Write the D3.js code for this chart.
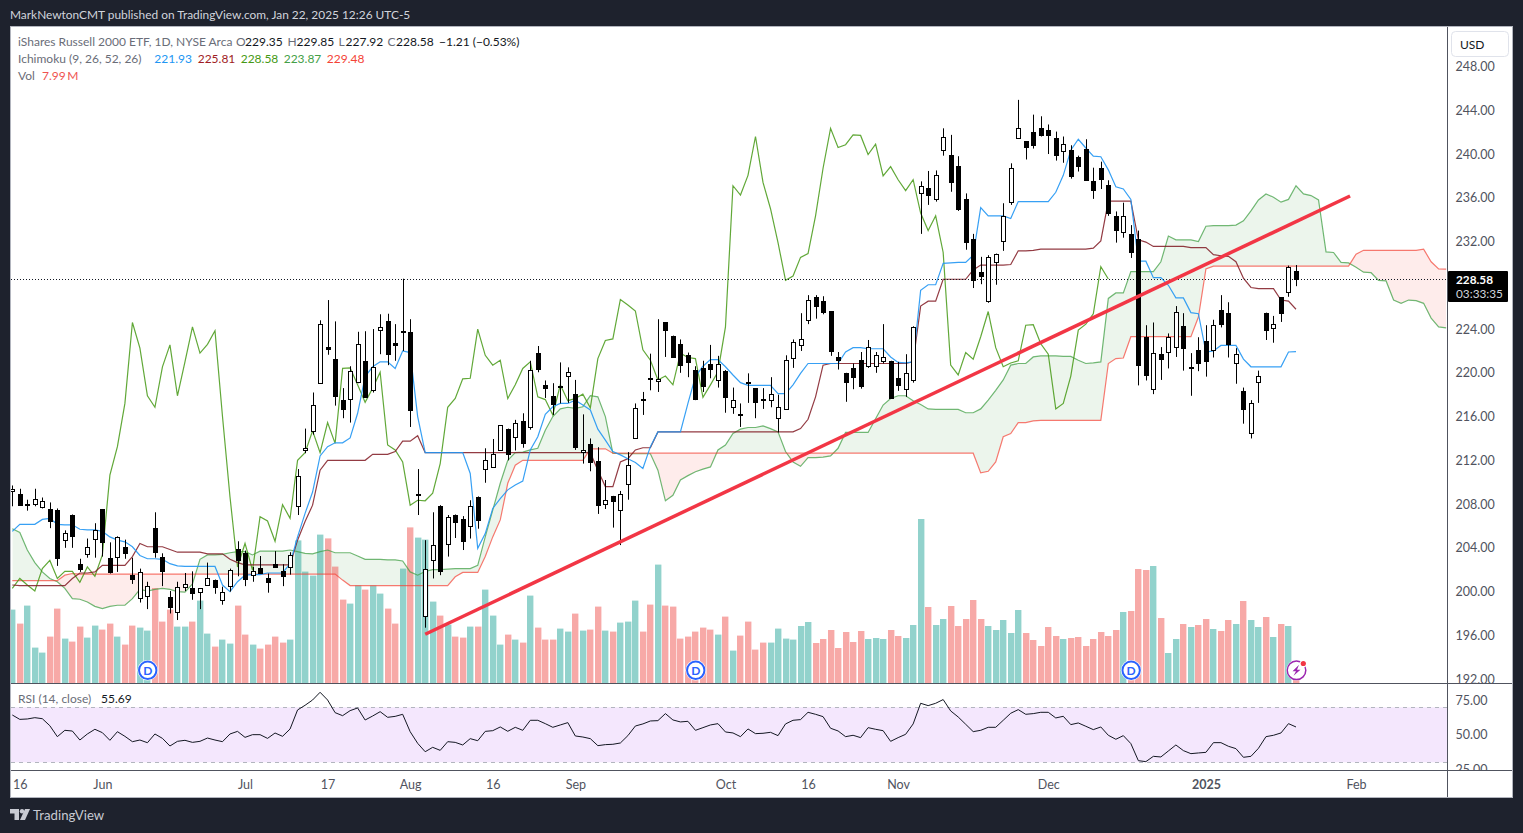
<!DOCTYPE html>
<html>
<head>
<meta charset="utf-8">
<title>IWM</title>
<script src="https://cdn.jsdelivr.net/npm/d3@7"></script>
<style>
    html, body { margin: 0; padding: 0; background: #1e222d; overflow: hidden; }
    svg { display: block; }
    text { font-family: "Lato", "Noto Sans", sans-serif; }
</style>
</head>
<body>
<div id="chart"></div>
<script>
// Prix quotidiens
const opens = [
    209.2,208.9,207.95,208.0,207.75,207.55,207.45,204.75,207.0,202.5,
    203.45,204.85,207.55,203.1,203.2,204.1,201.5,199.45,199.55,205.85,
    203.2,199.55,198.1,200.4,200.3,199.9,200.6,201.1,199.3,200.5,
    203.85,203.5,201.5,202.2,201.2,202.5,201.85,202.2,207.85,212.9,
    214.7,219.1,222.35,221.3,217.55,217.65,219.15,221.05,218.4,223.9,
    224.7,222.7,223.7,223.7,208.85,197.8,202.95,207.8,204.4,207.0,
    206.6,206.05,208.65,211.15,211.35,212.9,214.85,214.15,215.55,215.05,
    221.85,218.9,217.85,218.75,219.65,218.1,212.7,213.45,211.9,208.05,
    208.7,207.4,209.85,214.0,217.6,219.5,219.2,224.6,223.4,222.6,
    221.6,220.3,220.4,220.8,219.4,220.15,216.95,216.2,219.2,218.6,
    217.6,217.5,215.85,216.75,221.4,222.5,224.9,226.9,226.6,225.65,
    221.45,219.95,220.4,221.2,220.7,220.65,221.0,221.1,219.5,218.5,
    219.3,236.5,236.85,235.85,240.4,239.9,238.9,235.85,232.2,229.2,
    226.5,230.2,232.1,235.55,241.4,241.15,242.0,242.35,242.15,241.5,
    240.25,240.4,239.7,240.5,237.5,238.7,237.15,234.3,232.85,232.65,
    232.2,223.25,218.55,221.7,221.9,222.4,224.3,220.5,222.05,222.9,
    222.05,225.7,225.5,220.85,218.3,214.45,219.15,225.45,224.05,226.9,227.4,229.35
];
const highs = [
    209.7,209.4,208.4,209.4,208.6,208.15,207.6,205.6,207.05,203.0,
    204.85,206.25,207.55,204.5,205.05,204.75,203.1,202.1,200.9,207.25,
    203.5,200.05,200.9,201.7,201.85,200.3,202.65,201.1,200.45,202.1,
    204.6,203.75,202.25,203.25,201.65,203.7,202.5,203.6,211.2,214.9,
    218.2,224.8,226.65,224.7,218.6,220.6,223.75,223.8,224.0,225.35,
    225.4,224.45,228.6,224.9,211.2,204.7,207.25,207.9,207.0,207.05,
    206.9,208.35,208.7,213.1,213.95,215.2,214.9,215.7,216.3,221.1,
    222.45,219.3,219.05,220.95,220.5,219.35,216.2,214.0,213.2,210.2,
    208.75,209.2,212.75,217.2,218.25,221.75,224.9,224.6,223.4,223.05,
    221.85,220.6,221.1,222.55,221.55,220.25,218.65,217.2,219.95,218.6,
    218.6,219.6,218.0,221.6,223.05,225.45,227.1,227.1,227.0,225.65,
    221.9,220.0,220.85,221.9,223.0,221.9,224.45,221.1,221.0,221.7,
    224.25,237.5,238.45,238.5,242.35,241.75,239.8,236.4,232.7,230.6,
    230.75,230.9,235.5,239.15,244.95,241.15,243.6,243.45,242.7,242.05,
    241.6,240.8,239.85,241.35,238.75,239.3,237.6,234.75,235.55,233.5,
    233.0,224.35,224.6,222.35,223.6,226.1,225.45,221.8,223.25,224.35,
    224.85,227.1,226.45,222.25,218.65,217.5,220.2,225.5,225.2,226.9,229.8,229.85
];
const lows = [
    207.8,207.85,207.4,207.8,207.6,205.8,202.35,204.0,204.0,201.8,
    203.1,203.1,203.2,201.65,201.8,203.0,200.7,199.0,198.4,203.1,
    200.5,198.0,197.4,200.05,199.25,198.4,200.6,199.8,198.8,200.0,
    201.4,200.5,200.9,201.7,199.9,202.2,200.5,201.55,207.0,212.65,
    214.35,219.0,221.65,217.0,215.85,215.45,219.05,217.75,218.2,221.7,
    220.7,221.1,222.0,215.05,207.0,196.7,201.2,201.5,203.2,204.9,
    203.8,204.85,205.75,209.95,211.3,212.9,212.0,212.9,213.15,214.8,
    220.05,217.7,216.15,217.2,217.25,212.95,211.7,211.0,207.1,207.55,
    205.85,204.25,208.4,214.0,216.15,218.4,218.25,221.45,221.4,220.0,
    219.6,217.5,218.25,219.5,218.65,216.35,216.25,215.05,217.25,215.85,
    216.7,216.85,214.55,216.75,220.45,222.0,224.45,224.95,225.35,221.55,
    220.3,217.35,218.5,218.55,220.45,220.0,220.85,217.65,218.35,217.8,
    219.1,232.7,235.35,235.65,239.85,236.55,234.8,231.25,227.75,228.1,
    226.4,228.05,231.15,235.35,241.4,239.5,240.5,241.6,240.0,239.4,
    239.2,237.75,238.4,237.65,235.9,236.8,234.35,231.9,232.35,230.5,
    218.85,219.3,218.05,219.35,220.4,221.45,220.2,217.9,220.15,219.65,
    221.4,224.15,221.4,219.0,215.35,214.0,217.25,223.0,222.75,224.65,226.95,227.92
];
const closes = [
    209.4,207.85,208.0,208.5,208.3,206.45,203.1,205.4,205.1,202.05,
    204.05,205.65,204.55,201.85,205.0,203.55,201.1,201.8,200.5,203.65,
    201.9,198.6,200.4,200.7,199.8,200.3,201.2,200.45,200.0,202.0,
    202.8,201.1,201.85,201.75,200.85,202.2,201.4,203.3,210.6,213.1,
    217.1,224.5,222.2,217.9,216.7,220.2,222.6,217.8,220.5,224.15,
    221.65,222.5,223.8,216.55,208.9,202.1,204.3,201.85,206.85,206.4,
    204.55,207.85,206.55,212.0,212.55,215.2,212.6,215.4,213.5,220.3,
    220.4,218.6,217.15,218.8,220.05,213.25,212.9,211.85,207.85,208.4,
    208.25,208.9,211.55,216.75,217.55,219.4,219.4,223.9,221.45,220.7,
    221.0,217.65,218.75,220.3,220.85,217.8,217.55,216.1,219.1,217.35,
    217.55,218.05,216.85,221.2,222.85,223.05,226.7,226.05,225.55,222.0,
    221.15,219.15,219.6,218.8,222.4,221.65,221.4,217.7,218.9,220.0,
    224.15,237.1,236.25,238.05,241.6,237.4,235.0,231.9,228.45,228.85,
    230.55,230.9,234.35,238.7,242.35,240.6,240.85,241.75,241.7,239.95,
    240.9,238.0,238.85,237.65,236.65,237.65,234.6,233.0,234.35,231.0,
    220.7,219.8,221.85,221.25,223.3,225.6,222.3,220.55,220.9,221.1,
    224.35,224.4,222.65,221.7,216.7,217.2,219.7,223.9,224.45,225.4,229.7,228.58
];

// Volume en millions
const volumes = [
    36.7,29.7,38.7,17.7,15.2,23.2,37.2,22.2,20.7,28.2,
    22.7,28.7,26.7,29.7,23.2,19.2,28.7,27.7,26.2,47.5,
    30.7,36.7,28.2,28.2,30.7,41.2,24.7,18.2,21.7,19.7,
    38.7,24.2,19.2,17.2,19.2,23.2,20.2,21.7,71.3,55.7,
    53.7,74.2,72.3,58.2,41.7,39.7,48.8,46.7,48.8,44.7,
    37.2,29.7,57.2,77.8,72.7,71.7,40.7,33.7,29.2,23.2,
    22.7,28.2,28.2,46.7,33.7,19.2,24.2,21.7,20.2,43.7,
    27.7,21.7,21.7,27.2,25.7,34.7,26.2,26.7,38.2,26.2,
    25.7,30.2,30.7,41.2,25.7,39.2,59.2,38.7,38.2,22.2,
    23.2,25.7,27.7,26.7,24.2,33.2,16.2,23.7,30.7,16.7,
    20.2,20.2,27.2,22.2,21.7,28.5,30.5,20.0,22.0,26.5,
    17.5,25.5,20.5,26.0,22.0,22.5,22.0,26.5,23.5,22.5,
    29.0,82.0,38.0,29.0,32.0,38.5,28.5,32.0,41.5,32.0,
    28.5,26.5,31.5,25.0,36.5,25.0,21.5,18.5,28.0,23.5,
    22.0,22.5,23.0,18.5,22.0,25.5,23.5,26.5,35.5,36.0,
    57.0,56.5,58.5,32.5,15.0,22.0,29.5,28.0,29.0,32.0,
    27.0,26.0,31.5,29.5,41.0,31.5,28.0,33.0,23.0,29.5,28.5,7.99
];

// Ichimoku (9, 26, 52, 26)
const conversionLine = [
    205.5,206.15,206.15,206.15,206.6,206.7,206.15,206.1,206.1,205.7,
    205.65,205.65,205.5,205.0,204.7,204.55,204.1,203.3,203.0,203.0,
    202.95,202.55,202.35,202.3,202.3,202.3,202.3,202.3,200.6,200.0,
    200.9,201.5,201.55,201.55,201.7,201.7,201.7,202.55,205.0,207.15,
    209.1,212.4,213.25,213.6,213.6,214.05,216.3,219.65,220.55,221.0,
    221.0,220.4,222.0,221.85,216.0,212.7,212.7,212.7,212.7,212.7,
    212.7,210.8,203.95,205.3,207.6,208.5,209.3,209.75,210.1,212.95,
    214.15,216.2,216.9,217.2,217.2,217.5,217.05,216.6,214.85,213.85,
    212.8,212.5,212.15,211.8,211.25,213.25,214.6,214.6,214.6,214.6,
    217.2,219.65,220.6,221.2,221.2,220.55,219.8,219.1,218.85,218.85,
    218.85,218.85,218.1,218.1,218.9,219.95,220.85,220.85,220.85,220.85,
    220.85,221.9,222.3,222.3,222.2,222.2,222.2,221.45,220.95,220.9,
    221.0,227.55,228.05,228.05,230.0,230.05,230.1,230.1,230.75,235.1,
    234.35,234.35,234.35,234.1,235.65,235.65,235.65,235.65,235.65,236.5,
    238.05,240.35,241.35,240.55,239.8,239.75,238.55,237.0,236.8,235.85,
    230.2,230.2,228.7,228.7,228.0,226.85,226.85,225.5,225.4,221.9,
    222.0,222.5,222.5,222.5,221.25,220.55,220.55,220.55,220.55,220.55,221.9,221.93
];
const baseLine = [
    200.6,200.55,200.55,200.55,200.55,200.55,200.55,200.55,201.2,201.7,
    201.7,201.8,202.4,202.4,202.4,202.4,203.2,204.4,204.1,204.1,
    204.1,203.85,203.6,203.6,203.6,203.6,203.45,203.45,203.45,202.95,
    202.65,202.45,202.45,202.45,202.45,202.45,202.45,202.45,204.7,206.4,
    207.9,211.1,212.0,212.0,212.0,212.0,212.0,212.0,212.55,212.55,
    212.55,212.8,213.75,213.75,214.25,212.7,212.7,212.7,212.7,212.7,
    212.7,212.7,212.7,212.7,212.7,212.7,212.7,212.7,212.7,212.7,
    212.7,212.7,212.7,212.7,212.7,212.7,212.7,212.7,211.1,209.6,
    209.6,211.85,212.15,212.95,213.15,213.15,214.6,214.6,214.6,214.6,
    214.6,214.6,214.6,214.6,214.6,214.6,214.6,214.6,214.6,214.6,
    214.6,214.6,214.6,214.6,214.6,214.9,215.75,217.8,220.7,220.85,
    220.85,220.85,220.85,220.85,220.85,220.85,220.85,220.85,220.85,220.85,
    221.0,226.1,226.55,226.55,228.55,228.55,228.55,228.55,229.4,229.85,
    229.85,229.85,229.85,229.9,231.15,231.15,231.2,231.3,231.3,231.3,
    231.3,231.3,231.3,231.3,231.4,232.05,235.7,235.7,235.7,235.7,
    232.15,231.95,231.55,231.55,231.55,231.55,231.55,231.45,231.45,231.45,
    230.8,230.7,230.65,230.15,228.65,227.8,227.7,227.7,227.7,226.65,226.55,225.81
];
const laggingSpan = [
    200.3,201.2,200.6,200.05,202.1,202.85,201.2,201.85,201.85,200.85,
    202.25,201.4,203.35,210.65,213.25,217.2,224.6,222.25,217.9,216.85,
    220.55,222.55,217.9,221.0,224.2,221.8,222.6,223.85,216.0,208.65,
    202.25,204.4,201.95,206.85,206.45,204.6,207.95,206.7,212.0,212.7,
    214.7,212.7,215.45,213.55,220.4,220.45,218.9,217.3,218.6,220.05,
    213.4,212.95,211.85,207.9,208.35,208.3,209.0,211.7,216.85,217.65,
    219.45,219.5,224.0,221.6,220.7,221.15,217.65,218.9,220.4,221.0,
    217.8,217.55,216.15,218.9,217.45,217.65,218.05,216.8,221.3,222.95,
    223.1,226.7,226.2,225.65,222.1,221.15,219.35,219.7,218.9,221.8,
    221.4,221.3,217.75,218.9,220.1,224.2,237.1,236.25,238.05,241.6,
    237.4,235.0,231.9,228.45,228.85,230.55,230.9,234.35,238.7,242.35,
    240.6,240.85,241.75,241.7,239.95,240.9,238.0,238.85,237.65,236.65,
    237.65,234.6,233.0,234.35,231.0,220.7,219.8,221.85,221.25,223.3,
    225.6,222.3,220.55,220.9,221.1,224.35,224.4,222.65,221.7,216.7,
    217.2,219.7,223.9,224.45,225.4,229.7,228.58
];
const leadingSpanA = [
    205.75,205.4,203.8,202.65,201.8,201.2,200.9,200.3,199.35,199.3,
    199.05,198.65,198.45,198.65,198.75,198.75,199.35,200.2,200.05,200.2,
    200.3,200.2,200.0,199.95,200.7,202.95,203.35,203.35,203.4,203.55,
    203.65,203.65,203.35,203.7,203.7,203.7,203.7,203.8,203.65,203.5,
    203.45,203.65,203.8,203.55,203.55,203.55,203.25,202.95,202.95,202.95,
    202.9,202.9,202.8,201.8,201.5,201.85,202.0,202.0,202.05,202.1,
    202.1,202.1,202.4,205.0,207.45,209.9,212.0,212.7,212.75,212.95,
    213.1,214.75,216.0,216.7,216.85,216.75,216.9,217.9,217.8,216.0,
    212.65,212.6,212.6,212.6,212.6,212.6,211.1,208.3,208.8,210.2,
    210.6,210.95,211.2,211.4,212.95,213.4,214.45,214.85,215.0,215.0,
    215.15,214.9,214.6,212.8,211.85,211.45,212.25,212.25,212.3,212.4,
    213.1,214.55,214.55,214.55,214.55,215.8,217.05,217.65,217.9,217.9,
    217.45,217.1,216.7,216.65,216.65,216.65,216.65,216.35,216.35,216.7,
    217.5,218.4,219.35,220.7,220.85,220.85,221.45,221.55,221.55,221.55,
    221.5,221.5,221.15,220.85,220.9,221.0,226.8,227.3,227.3,229.25,
    229.25,229.25,229.25,230.15,232.5,232.15,232.15,232.15,232.0,233.4,
    233.45,233.45,233.45,233.5,233.9,234.8,235.8,236.35,236.05,235.6,
    235.85,237.1,236.35,236.2,235.8,231.05,231.0,230.1,230.05,229.65,
    229.2,229.15,228.45,228.4,226.65,226.35,226.65,226.6,226.35,225.0,
    224.2,224.1
];
const leadingSpanB = [
    201.0,201.0,201.0,201.0,201.0,201.0,201.0,201.5,201.65,201.6,
    201.6,201.6,201.6,201.6,201.6,201.6,201.6,201.6,201.6,201.6,
    201.6,201.6,201.6,201.6,201.6,201.6,201.6,201.6,201.6,201.6,
    201.6,201.6,201.6,201.6,201.6,201.6,201.6,201.6,201.6,201.6,
    201.6,201.6,201.6,201.6,201.05,200.55,200.55,200.55,200.55,200.55,
    200.55,200.55,200.55,200.55,200.55,200.55,200.55,200.55,200.55,201.35,
    201.75,201.75,201.75,203.2,205.0,206.55,209.9,211.55,212.0,212.0,
    212.0,212.0,212.0,212.0,212.0,212.0,212.0,213.05,213.05,213.05,
    212.65,212.65,212.65,212.65,212.65,212.65,212.65,212.65,212.65,212.65,
    212.65,212.65,212.65,212.65,212.65,212.65,212.65,212.65,212.65,212.65,
    212.65,212.65,212.65,212.65,212.65,212.65,212.65,212.65,212.65,212.65,
    212.65,212.65,212.65,212.65,212.65,212.65,212.65,212.65,212.65,212.65,
    212.65,212.65,212.65,212.65,212.65,212.65,212.65,212.65,212.65,210.85,
    211.0,211.85,214.15,214.45,215.45,215.45,215.6,215.65,215.65,215.65,
    215.65,215.65,215.65,215.65,215.65,215.65,220.85,221.3,221.35,223.3,
    223.3,223.3,223.3,223.3,223.3,223.3,223.3,223.3,225.1,229.5,
    229.75,229.75,229.75,229.75,229.75,229.75,229.75,229.75,229.75,229.75,
    229.75,229.75,229.75,229.75,229.75,229.75,229.75,229.75,229.75,230.85,
    231.2,231.2,231.2,231.2,231.2,231.2,231.2,231.2,231.3,230.15,
    229.5,229.48
];

// RSI (14, close)
const rsiValues = [
    64.4,61.2,61.5,62.45,61.7,56.6,48.65,53.25,52.75,46.2,
    50.6,54.0,51.55,46.0,52.25,48.9,45.0,46.2,44.25,50.6,
    47.4,41.85,45.25,46.0,44.5,45.25,47.65,46.2,45.0,50.6,
    52.5,48.15,50.1,50.1,47.4,51.3,48.9,54.2,68.05,71.45,
    75.3,80.9,75.3,66.1,63.9,67.55,69.5,60.75,63.65,66.8,
    62.7,63.4,64.9,52.25,43.8,37.7,40.9,38.7,45.0,44.5,
    42.6,47.2,45.7,52.5,53.0,55.7,52.55,55.45,53.25,60.55,
    60.55,58.1,55.45,57.15,58.85,49.15,48.4,47.2,42.1,42.85,
    43.1,44.05,49.4,56.4,57.9,60.05,60.3,65.4,60.8,59.35,
    59.8,53.25,55.2,57.15,58.1,52.05,51.35,48.65,54.25,50.85,
    51.1,51.8,49.4,57.9,60.55,61.05,66.35,64.9,63.2,54.75,
    52.8,48.65,49.65,47.95,55.2,54.0,53.0,45.25,47.95,50.35,
    57.9,72.9,71.2,72.9,75.6,67.35,62.95,57.65,52.3,53.25,
    55.45,55.45,60.55,65.65,68.3,64.9,65.4,66.35,66.35,62.25,
    63.45,57.4,58.6,56.2,53.75,55.7,49.65,46.75,49.4,43.6,
    31.2,30.5,34.35,33.9,38.25,42.6,38.5,36.3,36.8,37.25,
    44.3,44.3,41.65,39.95,33.65,34.35,40.2,48.65,49.65,51.35,58.1,55.69
];

// Axes (228 reste caché sous l'étiquette du dernier prix)
const priceTicks = [248, 244, 240, 236, 232, 224, 220, 216, 212, 208, 204, 200, 196, 192];
const rsiTicks = [75, 50, 25];
const rsiBand = [70, 30];
const timeTickIndex = [1, 12, 31, 42, 53, 64, 75, 95, 106, 118, 138, 159, 179];
const timeTickLabels = ['16', 'Jun', 'Jul', '17', 'Aug', '16', 'Sep', 'Oct', '16', 'Nov', 'Dec', '2025', 'Feb'];
const dividendIndex = [18, 91, 149];

// Droite de tendance tracée à la main : [indice, prix]
const trendStart = [55, 196.1];
const trendEnd = [178.2, 236.16];
const lastPrice = 228.58;

const paneLeft = 11, axisLeft = 1447.5, paneRight = 1512;
const paneTop = 27, mainBottom = 683.5, rsiBottom = 770.5, frameBottom = 797;

const svg = d3.select('#chart').append('svg').attr('width', 1523).attr('height', 833);

const x = d3.scaleLinear().domain([0, 171]).range([12.3, 1296]);
const y = d3.scaleLinear().domain([192, 248]).range([679.1, 66.5]);
const yVol = d3.scaleLinear().domain([0, 82]).range([683, 519]);
const yRsi = d3.scaleLinear().domain([25, 75]).range([769.2, 700.4]);

svg.append('text').attr('x', 10).attr('y', 19)
    .attr('font-size', 11.9).attr('fill', '#d1d4dc')
    .text('MarkNewtonCMT published on TradingView.com, Jan 22, 2025 12:26 UTC-5');

svg.append('rect').attr('x', paneLeft - 0.5).attr('y', paneTop - 0.5)
    .attr('width', paneRight - paneLeft + 1).attr('height', frameBottom - paneTop + 1)
    .attr('fill', '#fff').attr('stroke', '#b2b5be');

const defs = svg.append('defs');
function addClip(id, px, py, w, h) {
    defs.append('clipPath').attr('id', id).append('rect')
        .attr('x', px).attr('y', py).attr('width', w).attr('height', h);
}
addClip('main-clip', paneLeft, paneTop, axisLeft - paneLeft, mainBottom - paneTop);
addClip('rsi-clip', paneLeft, mainBottom, axisLeft - paneLeft, rsiBottom - mainBottom);
addClip('price-axis-clip', axisLeft, paneTop, paneRight - axisLeft, mainBottom - paneTop);
addClip('rsi-axis-clip', axisLeft, mainBottom, paneRight - axisLeft, rsiBottom - mainBottom);

const main = svg.append('g').attr('clip-path', 'url(#main-clip)');

// Nuage : on découpe la zone entre A et B de part et d'autre de B
const spanIdx = d3.range(leadingSpanA.length);
const cloudArea = d3.area().x(i => x(i)).y0(i => y(leadingSpanB[i])).y1(i => y(leadingSpanA[i]));
defs.append('clipPath').attr('id', 'above-b').append('path')
    .attr('d', d3.area().x(i => x(i)).y0(i => y(leadingSpanB[i])).y1(paneTop)(spanIdx));
defs.append('clipPath').attr('id', 'below-b').append('path')
    .attr('d', d3.area().x(i => x(i)).y0(i => y(leadingSpanB[i])).y1(mainBottom)(spanIdx));
main.append('path').attr('d', cloudArea(spanIdx)).attr('clip-path', 'url(#above-b)')
    .attr('fill', '#43a047').attr('fill-opacity', 0.1);
main.append('path').attr('d', cloudArea(spanIdx)).attr('clip-path', 'url(#below-b)')
    .attr('fill', '#f44336').attr('fill-opacity', 0.1);

// Volume
main.append('g').selectAll('rect')
    .data(volumes)
    .enter()
    .append('rect')
    .attr('x', (d, i) => Math.round(x(i)) - 3)
    .attr('y', d => yVol(d))
    .attr('width', 6.4)
    .attr('height', d => yVol(0) - yVol(d))
    .attr('fill', (d, i) => closes[i] >= opens[i] ? '#26a69a' : '#ef5350')
    .attr('fill-opacity', 0.5);

// Lignes Ichimoku
function drawLine(values, color, opacity) {
    const line = d3.line().x((d, i) => x(i)).y(d => y(d));
    main.append('path').attr('d', line(values))
        .attr('fill', 'none').attr('stroke', color).attr('stroke-width', 1.2).attr('stroke-opacity', opacity);
}
drawLine(leadingSpanA, '#43a047', 0.75);
drawLine(leadingSpanB, '#f44336', 0.7);
drawLine(laggingSpan, '#459915', 0.85);
drawLine(baseLine, '#801922', 0.85);
drawLine(conversionLine, '#2196f3', 0.9);

// Ligne du dernier prix
main.append('line')
    .attr('x1', paneLeft).attr('x2', axisLeft)
    .attr('y1', Math.round(y(lastPrice)) + 0.5).attr('y2', Math.round(y(lastPrice)) + 0.5)
    .attr('stroke', '#131722').attr('stroke-dasharray', '1 2');

// Bougies
const candles = main.append('g').selectAll('g')
    .data(opens)
    .enter()
    .append('g');
candles.append('rect')
    .attr('x', (d, i) => Math.round(x(i)))
    .attr('width', 1)
    .attr('y', (d, i) => y(highs[i]))
    .attr('height', (d, i) => y(lows[i]) - y(highs[i]))
    .attr('fill', '#000');
candles.append('rect')
    .attr('x', (d, i) => Math.round(x(i)) - 1.5)
    .attr('width', 4)
    .attr('y', (d, i) => Math.round(y(Math.max(opens[i], closes[i]))) + 0.5)
    .attr('height', (d, i) => Math.max(1, Math.round(Math.abs(y(opens[i]) - y(closes[i])))))
    .attr('fill', (d, i) => closes[i] >= opens[i] ? '#fff' : '#000')
    .attr('stroke', '#000')
    .attr('stroke-width', 1);

// Droite de tendance
main.append('line')
    .attr('x1', x(trendStart[0])).attr('y1', y(trendStart[1]))
    .attr('x2', x(trendEnd[0])).attr('y2', y(trendEnd[1]))
    .attr('stroke', '#f23645').attr('stroke-width', 3.5);

// Marqueurs de dividende et icône d'événement
const markerY = 670.3;
const markers = main.append('g').selectAll('g')
    .data(dividendIndex)
    .enter()
    .append('g')
    .attr('transform', d => `translate(${x(d) + 0.3},${markerY})`);
markers.append('circle').attr('r', 10.3).attr('fill', '#fff');
markers.append('circle').attr('r', 8.7).attr('fill', '#fff').attr('stroke', '#2962ff').attr('stroke-width', 2);
markers.append('text').attr('text-anchor', 'middle').attr('y', 4.3)
    .attr('font-size', 12).attr('font-weight', 700).attr('fill', '#2962ff').text('D');

const spark = main.append('g').attr('transform', `translate(${x(171) + 0.5},${markerY})`);
spark.append('circle').attr('r', 10.3).attr('fill', '#fff');
spark.append('circle').attr('r', 9.3).attr('fill', 'none').attr('stroke', '#9c27b0').attr('stroke-width', 1.5);
spark.append('path').attr('d', 'M2.5 -5.5 L-4 1 H-0.5 L-3 5.5 L4 -0.5 H0.5 Z').attr('fill', '#9c27b0');
spark.append('circle').attr('cx', 6.8).attr('cy', -6.8).attr('r', 3.6).attr('fill', '#fff');
spark.append('circle').attr('cx', 6.8).attr('cy', -6.8).attr('r', 2.6).attr('fill', '#f23645');

// Panneau RSI
const rsiPane = svg.append('g').attr('clip-path', 'url(#rsi-clip)');
rsiPane.append('rect')
    .attr('x', paneLeft).attr('width', axisLeft - paneLeft)
    .attr('y', yRsi(rsiBand[0])).attr('height', yRsi(rsiBand[1]) - yRsi(rsiBand[0]))
    .attr('fill', '#f4e7fd');
rsiPane.selectAll('line.band')
    .data(rsiBand)
    .enter()
    .append('line')
    .attr('class', 'band')
    .attr('x1', paneLeft).attr('x2', axisLeft)
    .attr('y1', d => Math.round(yRsi(d)) + 0.5).attr('y2', d => Math.round(yRsi(d)) + 0.5)
    .attr('stroke', '#b2b5be').attr('stroke-dasharray', '4 4');
rsiPane.append('path')
    .attr('d', d3.line().x((d, i) => x(i)).y(d => yRsi(d))(rsiValues))
    .attr('fill', 'none').attr('stroke', '#131722').attr('stroke-width', 1);

// Axes
function styleAxis(g) {
    g.select('.domain').remove();
    g.selectAll('.tick line').remove();
    g.selectAll('.tick text')
        .attr('fill', '#50535e')
        .style('font-family', '"Lato", "Noto Sans", sans-serif')
        .style('font-size', '12.5px');
}
svg.append('g').attr('clip-path', 'url(#price-axis-clip)').append('g')
    .attr('transform', `translate(1447.5,0)`)
    .call(d3.axisRight(y).tickValues(priceTicks).tickFormat(d3.format('.2f')).tickSize(0).tickPadding(8))
    .call(styleAxis);
svg.append('g').attr('clip-path', 'url(#rsi-axis-clip)').append('g')
    .attr('transform', `translate(1447.5,0)`)
    .call(d3.axisRight(yRsi).tickValues(rsiTicks).tickFormat(d3.format('.2f')).tickSize(0).tickPadding(8))
    .call(styleAxis);
svg.append('g')
    .attr('transform', `translate(0,${rsiBottom})`)
    .call(d3.axisBottom(x).tickValues(timeTickIndex).tickFormat((d, i) => timeTickLabels[i]).tickSize(0).tickPadding(10))
    .call(styleAxis)
    .selectAll('.tick text')
    .attr('font-weight', d => d === 159 ? 700 : 400);

// Séparateurs des panneaux
const separators = [[paneLeft, mainBottom, paneRight, mainBottom], [paneLeft, rsiBottom, paneRight, rsiBottom], [axisLeft, paneTop, axisLeft, frameBottom]];
svg.append('g').selectAll('line')
    .data(separators)
    .enter()
    .append('line')
    .attr('x1', d => d[0]).attr('y1', d => d[1]).attr('x2', d => d[2]).attr('y2', d => d[3])
    .attr('stroke', '#50535e');

// Étiquette du dernier prix
const priceTag = svg.append('g');
priceTag.append('rect').attr('x', 1448).attr('y', 271).attr('width', 60).attr('height', 31).attr('rx', 1).attr('fill', '#000');
priceTag.append('text').attr('x', 1456).attr('y', 284).attr('font-size', 11.8).attr('font-weight', 700).attr('fill', '#fff').text(lastPrice.toFixed(2));
priceTag.append('text').attr('x', 1456).attr('y', 298).attr('font-size', 11.8).attr('fill', '#d1d4dc').text('03:33:35');

svg.append('rect').attr('x', 1451.5).attr('y', 31.5).attr('width', 57).attr('height', 25).attr('rx', 4)
    .attr('fill', '#fff').attr('stroke', '#e0e3eb');
svg.append('text').attr('x', 1460).attr('y', 49).attr('font-size', 12).attr('fill', '#131722').text('USD');

// Légende en haut à gauche
const legendRows = [
    [18, 46, 'iShares Russell 2000 ETF, 1D, NYSE Arca', '#6a6d78'],
    [236, 46, 'O', '#6a6d78'], [245, 46, '229.35', '#131722'],
    [287.5, 46, 'H', '#6a6d78'], [296.5, 46, '229.85', '#131722'],
    [338.5, 46, 'L', '#6a6d78'], [345.5, 46, '227.92', '#131722'],
    [387.5, 46, 'C', '#6a6d78'], [396, 46, '228.58', '#131722'],
    [439, 46, '\u22121.21 (\u22120.53%)', '#131722'],
    [18, 63, 'Ichimoku (9, 26, 52, 26)', '#6a6d78'],
    [154.3, 63, '221.93', '#2196f3'], [197.7, 63, '225.81', '#a01c24'],
    [240.7, 63, '228.58', '#459915'], [283.7, 63, '223.87', '#43a047'],
    [326.8, 63, '229.48', '#f44336'],
    [18, 80, 'Vol', '#6a6d78'], [42, 80, '7.99\u2009M', '#ef5350'],
    [18, 703, 'RSI (14, close)', '#6a6d78'], [101, 703, '55.69', '#131722']
];
svg.append('g').selectAll('text')
    .data(legendRows)
    .enter()
    .append('text')
    .attr('x', d => d[0]).attr('y', d => d[1])
    .attr('font-size', 12)
    .attr('fill', d => d[3])
    .text(d => d[2]);

// Logo en bas de page
const logo = svg.append('g').attr('transform', 'translate(10,809)').attr('fill', '#c8cad2');
logo.append('path').attr('d', 'M0 0H9V11H4.5V4.5H0Z');
logo.append('circle').attr('cx', 12).attr('cy', 2.2).attr('r', 2.2);
logo.append('path').attr('d', 'M15 0H20L15 11H10Z');
svg.append('text').attr('x', 33).attr('y', 820).attr('font-size', 13.2).attr('fill', '#c8cad2').text('TradingView');
</script>
</body>
</html>
